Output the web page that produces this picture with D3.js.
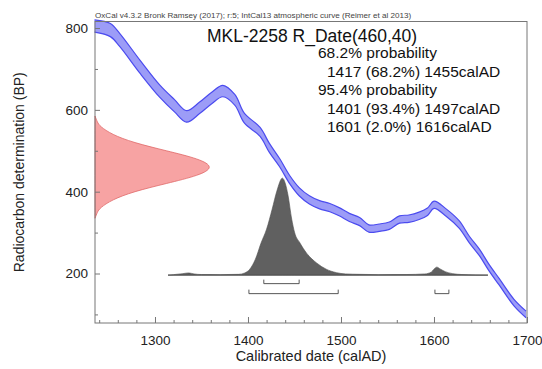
<!DOCTYPE html>
<html>
<head>
<meta charset="utf-8">
<script src="https://cdn.jsdelivr.net/npm/d3@7"></script>
<style>
  body { margin: 0; background: #fff; }
  text { font-family: "Liberation Sans", Arial, sans-serif; }
</style>
</head>
<body>
<svg id="drawing_region"></svg>
<script>
// IntCal13 curve (calAD, BP, 1 sigma)
const curveYears = [1235, 1252, 1262, 1284, 1305, 1321, 1334, 1348, 1361, 1373, 1386, 1396, 1413, 1423, 1434, 1445, 1455, 1466, 1477, 1488, 1498, 1509, 1520, 1530, 1541, 1552, 1563, 1573, 1584, 1593, 1600, 1613, 1627, 1638, 1649, 1659, 1670, 1686, 1699];
const curveBP    = [805, 795, 771, 705, 646, 610, 584, 605, 629, 646, 624, 580, 546, 507, 471, 429, 400, 380, 368, 361, 351, 337, 327, 310, 312, 317, 332, 334, 341, 351, 368, 349, 320, 283, 251, 215, 180, 129, 100];
const curveErr   = [15, 16, 16, 16, 15, 15, 14, 14, 14, 14, 13, 12, 11, 11, 10, 10, 10, 10, 10, 10, 10, 10, 10, 9, 9, 9, 9, 9, 9, 9, 9, 9, 9, 8, 8, 8, 8, 8, 8];

// radiocarbon date R_Date(460,40): relative density
const dateBP      = [335, 350, 360, 380, 400, 420, 440, 460, 480, 500, 520, 540, 560, 570, 585];
const dateDensity = [0, 0.02, 0.04, 0.14, 0.32, 0.6, 0.88, 1.0, 0.88, 0.6, 0.32, 0.14, 0.04, 0.02, 0];

// calibrated probability (relative)
const probYears  = [1314, 1320, 1330, 1336, 1342, 1350, 1370, 1390, 1396, 1402, 1408, 1414, 1420, 1426, 1431, 1437, 1440, 1443, 1447, 1450, 1456, 1463, 1474, 1484, 1495, 1505, 1520, 1540, 1570, 1590, 1597, 1600, 1603, 1607, 1612, 1620, 1630, 1645, 1658];
const probValues = [0, 0.5, 1.5, 2.2, 1.2, 0.6, 0.5, 0.8, 2, 6, 16, 32, 46, 66, 84, 97, 92, 80, 56, 43, 32, 22, 12, 6, 2.5, 1.2, 0.8, 0.5, 0.6, 1.2, 3, 6, 8, 6, 3.5, 1.5, 0.6, 0.2, 0];

const ranges68 = [[1417, 1455]];
const ranges95 = [[1401, 1497], [1601, 1616]];

const xTicks = [1300, 1400, 1500, 1600, 1700];
const yTicks = [200, 400, 600, 800];

const headerText = "OxCal v4.3.2 Bronk Ramsey (2017); r:5; IntCal13 atmospheric curve (Reimer et al 2013)";
const titleText = "MKL-2258 R_Date(460,40)";
const summaryLines = [
    { text: "68.2% probability", indent: 0 },
    { text: "1417 (68.2%) 1455calAD", indent: 1 },
    { text: "95.4% probability", indent: 0 },
    { text: "1401 (93.4%) 1497calAD", indent: 1 },
    { text: "1601 (2.0%) 1616calAD", indent: 1 }
];

const config = {
    width: 542,
    height: 369,
    margin: {top: 21.5, right: 15, bottom: 46, left: 95}
};

const svg = d3.select('#drawing_region')
    .attr('width', config.width)
    .attr('height', config.height);

const inner_width = config.width - config.margin.left - config.margin.right;
const inner_height = config.height - config.margin.top - config.margin.bottom;

const chart = svg.append('g')
    .attr('transform', `translate(${config.margin.left}, ${config.margin.top})`);

const xscale = d3.scaleLinear().domain([1235.5, 1700]).range([0, inner_width]);
const yscale = d3.scaleLinear().domain([79, 816]).range([inner_height, 0]);

// pixel length of the density shapes
const dateScale = d3.scaleLinear().domain([0, 1]).range([0, 119]);
const probScale = d3.scaleLinear().domain([0, 100]).range([0, 100]);
const probBaseBP = 196;

// calibration curve band
const band = d3.area()
    .x((d, i) => xscale(curveYears[i]))
    .y0((d, i) => yscale(curveBP[i] - curveErr[i]))
    .y1((d, i) => yscale(curveBP[i] + curveErr[i]))
    .curve(d3.curveCatmullRom);

chart.append('path')
    .datum(curveYears)
    .attr('d', band)
    .attr('fill', '#9c9cf7')
    .attr('stroke', 'none');

[-1, 1].forEach(s => {
    chart.append('path')
        .datum(curveYears)
        .attr('d', d3.line()
            .x((d, i) => xscale(curveYears[i]))
            .y((d, i) => yscale(curveBP[i] + s * curveErr[i]))
            .curve(d3.curveCatmullRom))
        .attr('fill', 'none')
        .attr('stroke', '#4b4bef')
        .attr('stroke-width', 1.2);
});

// radiocarbon date on the y axis
chart.append('path')
    .datum(dateBP)
    .attr('d', d3.area()
        .y((d, i) => yscale(dateBP[i]))
        .x0(0)
        .x1((d, i) => dateScale(dateDensity[i]))
        .curve(d3.curveBasis))
    .attr('fill', '#f7a3a3')
    .attr('stroke', '#e06868')
    .attr('stroke-width', 0.8);

// calibrated distribution
chart.append('path')
    .datum(probYears)
    .attr('d', d3.area()
        .x((d, i) => xscale(probYears[i]))
        .y0(yscale(probBaseBP))
        .y1((d, i) => yscale(probBaseBP) - probScale(probValues[i]))
        .curve(d3.curveMonotoneX))
    .attr('fill', '#606060')
    .attr('stroke', '#4a4a4a')
    .attr('stroke-width', 0.6);

chart.append('line')
    .attr('x1', xscale(probYears[0]))
    .attr('x2', xscale(probYears[probYears.length - 1]))
    .attr('y1', yscale(probBaseBP))
    .attr('y2', yscale(probBaseBP))
    .attr('stroke', '#555')
    .attr('stroke-width', 0.8);

// range brackets
const drawRanges = (ranges, offset) => {
    ranges.forEach(r => {
        const y = yscale(probBaseBP) + offset;
        chart.append('path')
            .attr('d', `M${xscale(r[0])},${y - 4}V${y}H${xscale(r[1])}V${y - 4}`)
            .attr('fill', 'none')
            .attr('stroke', '#444')
            .attr('stroke-width', 0.9);
    });
};
drawRanges(ranges68, 8.5);
drawRanges(ranges95, 18.5);

// frame
chart.append('rect')
    .attr('x', 0)
    .attr('y', 0)
    .attr('width', inner_width)
    .attr('height', inner_height)
    .attr('fill', 'none')
    .attr('stroke', '#777')
    .attr('stroke-width', 1);

// axes
const xaxis = d3.axisBottom(xscale)
    .tickValues(xTicks)
    .tickSize(-6)
    .tickPadding(12)
    .tickFormat(d3.format('d'));
const xminor = d3.axisBottom(xscale)
    .tickValues(d3.range(1240, 1700, 20).filter(v => v % 100 !== 0))
    .tickSize(-3)
    .tickFormat('');
const yaxis = d3.axisLeft(yscale)
    .tickValues(yTicks)
    .tickSize(-5)
    .tickPadding(7);
const yminor = d3.axisLeft(yscale)
    .tickValues([100, 300, 500, 700])
    .tickSize(-3)
    .tickFormat('');

[xaxis, xminor].forEach(ax => {
    chart.append('g')
        .attr('transform', `translate(0, ${inner_height})`)
        .call(ax)
        .call(g => g.select('.domain').remove())
        .call(g => g.selectAll('line').attr('stroke', '#777'))
        .call(g => g.selectAll('text').attr('font-size', 13.5).attr('fill', '#222')
            .style('font-family', '"Liberation Sans", Arial, sans-serif'));
});
[yaxis, yminor].forEach(ax => {
    chart.append('g')
        .call(ax)
        .call(g => g.select('.domain').remove())
        .call(g => g.selectAll('line').attr('stroke', '#777'))
        .call(g => g.selectAll('text').attr('font-size', 13.5).attr('fill', '#222')
            .style('font-family', '"Liberation Sans", Arial, sans-serif'));
});

// labels
svg.append('text')
    .attr('x', config.margin.left + inner_width / 2)
    .attr('y', 361)
    .attr('text-anchor', 'middle')
    .attr('font-size', 14.5)
    .attr('fill', '#222')
    .text('Calibrated date (calAD)');

svg.append('text')
    .attr('transform', `translate(24, ${config.margin.top + inner_height / 2}) rotate(-90)`)
    .attr('text-anchor', 'middle')
    .attr('font-size', 14)
    .attr('fill', '#222')
    .text('Radiocarbon determination (BP)');

svg.append('text')
    .attr('x', config.margin.left)
    .attr('y', 18)
    .attr('font-size', 8.1)
    .attr('fill', '#444')
    .text(headerText);

svg.append('text')
    .attr('x', 207)
    .attr('y', 42)
    .attr('font-size', 17.5)
    .attr('fill', '#111')
    .text(titleText);

svg.selectAll('.summary')
    .data(summaryLines)
    .enter()
    .append('text')
    .attr('class', 'summary')
    .attr('x', d => 318 + d.indent * 9)
    .attr('y', (d, i) => 58 + i * 18.5)
    .attr('font-size', 15.5)
    .attr('fill', '#111')
    .text(d => d.text);
</script>
</body>
</html>
